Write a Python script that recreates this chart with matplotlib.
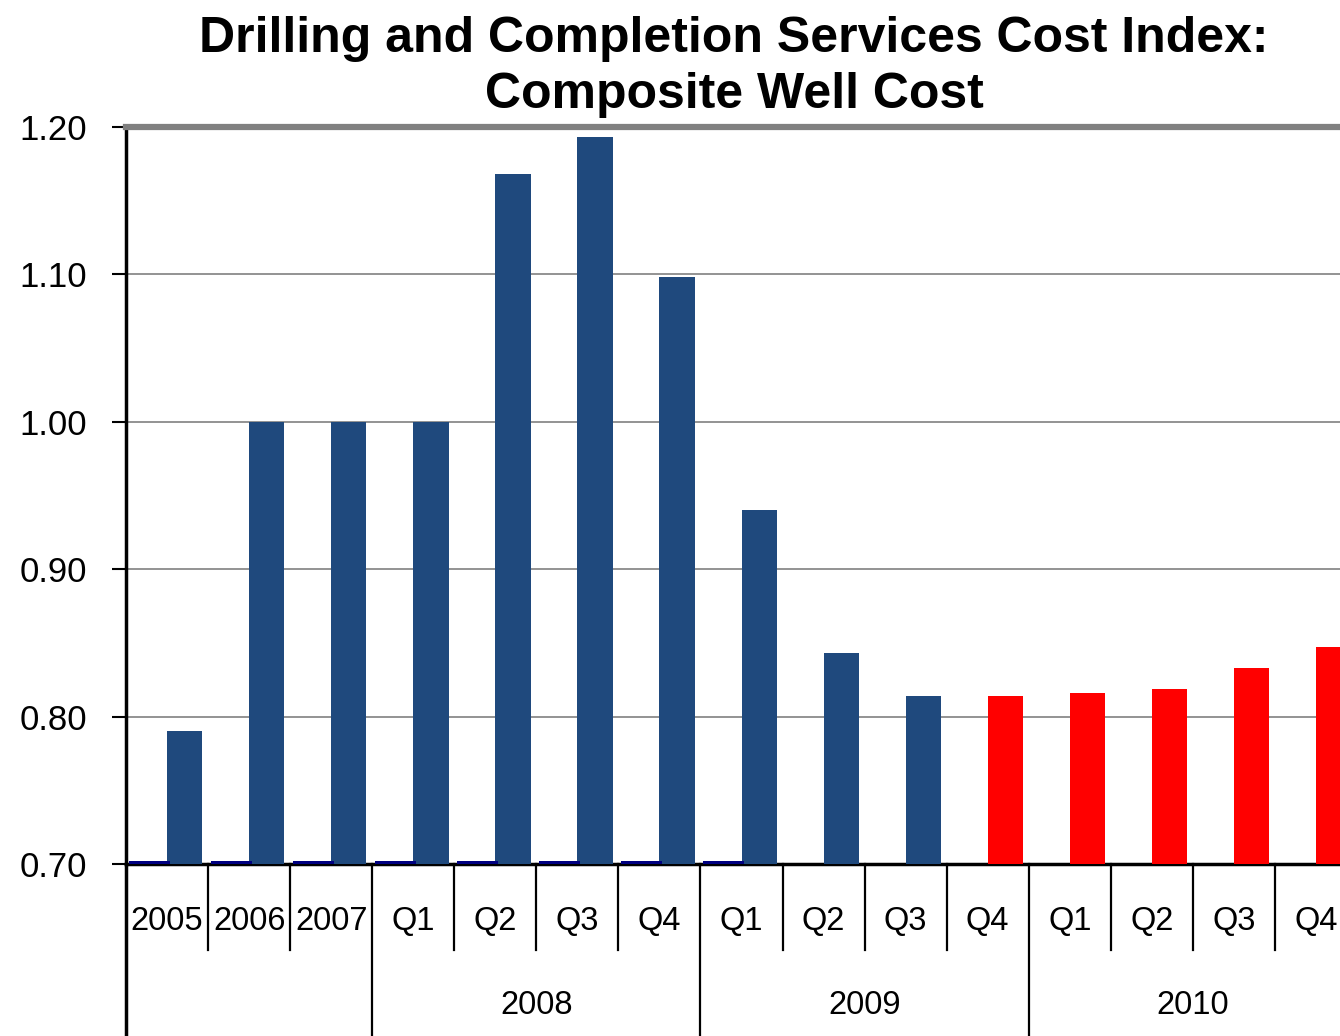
import matplotlib
matplotlib.use("Agg")
import matplotlib.pyplot as plt
import matplotlib.transforms as mtransforms
import numpy as np

# Datos
categorias = ['2005', '2006', '2007', 'Q1', 'Q2', 'Q3', 'Q4',
              'Q1', 'Q2', 'Q3', 'Q4', 'Q1', 'Q2', 'Q3', 'Q4']
grupos = ['2008', '2009', '2010']
grupos_inicio = [3, 7, 11]   # primer indice de cada grupo
grupos_fin = [6, 10, 14]     # ultimo indice de cada grupo

valores_azul = [0.79, 1.00, 1.00, 1.00, 1.168, 1.193, 1.098, 0.940, 0.843, 0.814]
valores_rojo = [0.814, 0.816, 0.819, 0.833, 0.847]
serie_base = [0.70, 0.70, 0.70, 0.70, 0.70, 0.70, 0.70, 0.70]  # serie a nivel del eje

azul = '#1F497D'
rojo = '#FF0000'
marino = '#000080'

plt.rcParams['font.family'] = ['Liberation Sans', 'DejaVu Sans']

fig = plt.figure(figsize=(13.4, 10.36), dpi=100)
ax = fig.add_axes([126 / 1340, 1 - 864 / 1036, (1357 - 126) / 1340, (864 - 127) / 1036])

x = np.arange(len(categorias))
ancho = 0.43
n_azul = len(valores_azul)

ax.bar(x[:n_azul] + ancho / 2, np.array(valores_azul) - 0.70, bottom=0.70,
       width=ancho, color=azul, zorder=3)
ax.bar(x[n_azul:] + ancho / 2, np.array(valores_rojo) - 0.70, bottom=0.70,
       width=ancho, color=rojo, zorder=3)
# linea azul marino de la serie que queda en el minimo
xb = x[:len(serie_base)] - ancho / 2
ax.bar(xb, 0.004, bottom=np.array(serie_base) - 0.002, width=ancho + 0.07,
       color=marino, zorder=4)

ax.set_xlim(-0.5, len(categorias) - 0.5)
ax.set_ylim(0.70, 1.20)
ax.set_yticks([0.70, 0.80, 0.90, 1.00, 1.10, 1.20])
ax.set_yticklabels([f"{v:.2f}" for v in [0.70, 0.80, 0.90, 1.00, 1.10, 1.20]], fontsize=25)
ax.tick_params(axis='y', length=10, width=1.5, pad=18, direction='out')
ax.set_xticks([])

ax.yaxis.grid(True, color='#808080', linewidth=1.2, zorder=0)
ax.set_axisbelow(True)

ax.spines['top'].set_color('#808080')
ax.spines['top'].set_linewidth(4.5)
ax.spines['right'].set_visible(False)
ax.spines['left'].set_linewidth(2.5)
ax.spines['bottom'].set_linewidth(2.5)

# Etiquetas del eje x en dos niveles
trans = mtransforms.blended_transform_factory(ax.transData, ax.transAxes)
corta = -(950 - 864) / (864 - 127)
larga = -0.3
limites_largos = [2.5, 6.5, 10.5, 14.5]

for i, lab in enumerate(categorias):
    ax.text(i, -(922 - 864) / (864 - 127), lab, transform=trans, ha='center', va='center',
            fontsize=23.5, clip_on=False)

for b in np.arange(0.5, len(categorias), 1.0):
    y_fin = larga if b in limites_largos else corta
    ax.plot([b, b], [0, y_fin], transform=trans, color='black', lw=1.6, clip_on=False)
ax.plot([-0.5, -0.5], [0, larga], transform=trans, color='black', lw=2.5, clip_on=False)

for g, a, b in zip(grupos, grupos_inicio, grupos_fin):
    ax.text((a + b) / 2, -(1006 - 864) / (864 - 127), g, transform=trans, ha='center',
            va='center', fontsize=23.5, clip_on=False)

fig.text(734 / 1340, 1 - 67 / 1036,
         "Drilling and Completion Services Cost Index:\nComposite Well Cost",
         ha='center', va='center', fontsize=36, fontweight='bold',
         linespacing=1.3)

fig.savefig("out.png", dpi=100)
